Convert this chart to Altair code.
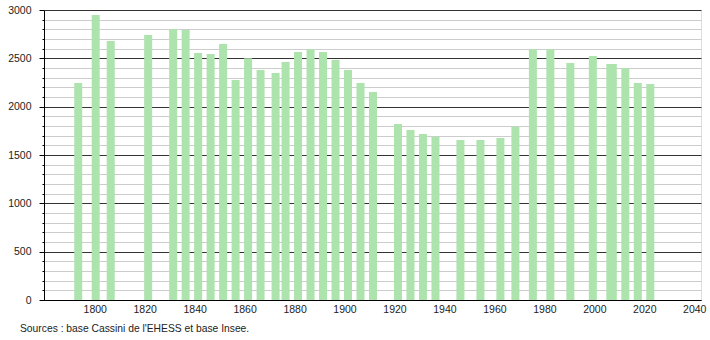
import altair as alt
import pandas as pd

years = [1793, 1800, 1806, 1821, 1831, 1836, 1841, 1846, 1851, 1856, 1861, 1866,
         1872, 1876, 1881, 1886, 1891, 1896, 1901, 1906, 1911, 1921, 1926, 1931,
         1936, 1946, 1954, 1962, 1968, 1975, 1982, 1990, 1999, 2006, 2007, 2012,
         2017, 2022]
population = [2245, 2948, 2679, 2741, 2803, 2793, 2555, 2545, 2648, 2276, 2500, 2379,
              2348, 2462, 2566, 2593, 2566, 2483, 2379, 2245, 2152, 1821, 1759, 1717,
              1690, 1655, 1655, 1676, 1793, 2593, 2593, 2452, 2524, 2441, 2441, 2397,
              2245, 2234]
x_ticks = [1800, 1820, 1840, 1860, 1880, 1900, 1920, 1940, 1960, 1980, 2000, 2020, 2040]
y_ticks = list(range(0, 3001, 100))
source_text = "Sources : base Cassini de l'EHESS et base Insee."

df = pd.DataFrame({"annee": years, "population": population})

FONT = "Liberation Sans"
MAJOR = "datum.value % 500 === 0"

chart = alt.Chart(df).mark_bar(size=8, color="#ade3ad", xOffset=1).encode(
    x=alt.X("annee:Q",
            scale=alt.Scale(domain=[1779.7, 2042.7], nice=False, zero=False, padding=0),
            axis=alt.Axis(values=x_ticks, format="d", title=None, grid=False,
                          ticks=False, labelPadding=4, labelFontSize=10.5,
                          labelFont=FONT, labelColor="#222",
                          domainColor="#000", labelFlush=False)),
    y=alt.Y("population:Q",
            scale=alt.Scale(domain=[0, 3000], nice=False),
            axis=alt.Axis(values=y_ticks, title=None, grid=True,
                          gridColor={"condition": {"test": MAJOR, "value": "#333333"}, "value": "#cccccc"},
                          tickSize={"condition": {"test": MAJOR, "value": 5}, "value": 2},
                          tickColor="#000",
                          labelExpr=MAJOR + " ? datum.label : ''",
                          format="d",
                          labelPadding=8, labelFontSize=10.5, labelFont=FONT,
                          labelColor="#222", domainColor="#000")),
).properties(
    width=657,
    height=290,
    autosize=alt.AutoSizeParams(type="none"),
    padding={"left": 44, "top": 10, "right": 9, "bottom": 40},
    title=alt.TitleParams(source_text, orient="bottom", anchor="start",
                          frame="group",
                          fontSize=10.3, fontWeight="normal", font=FONT,
                          color="#222", offset=9, dx=-24),
).configure_view(stroke=None).configure(background="white")

chart.save("out.html", embed_options={"renderer": "svg", "actions": False})
